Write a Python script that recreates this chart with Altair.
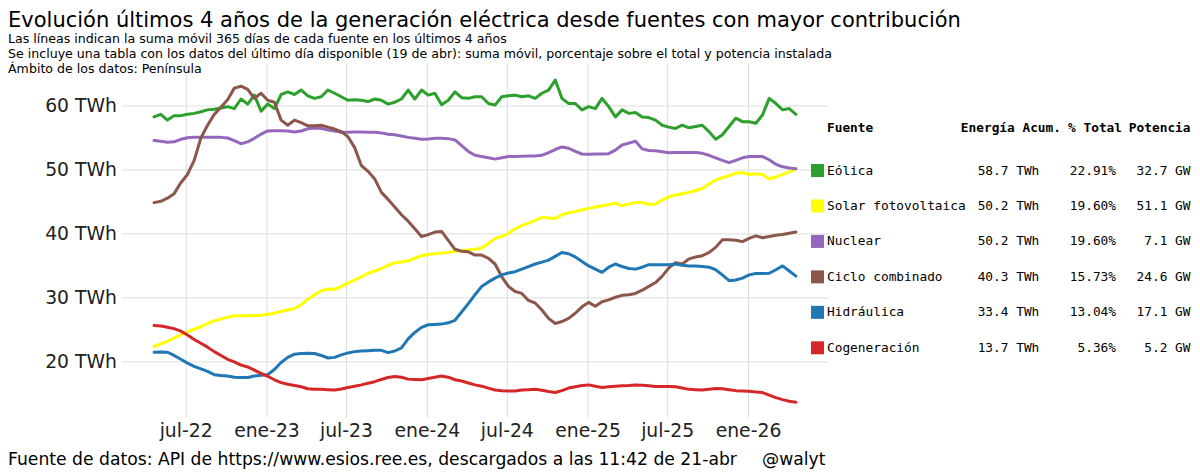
import altair as alt
import pandas as pd

# ---------------- data ----------------
fuentes = ["Eólica", "Solar fotovoltaica", "Nuclear", "Ciclo combinado", "Hidráulica", "Cogeneración"]
colores = ["#2ca02c", "#ffff00", "#9467bd", "#8c564b", "#1f77b4", "#d62728"]

fecha_inicio = "2022-04-19"
fecha_fin = "2026-04-19"
n_puntos = 97  # one reading every ~half month

eolica = [58.3, 58.7, 57.8, 58.5, 58.5, 58.7, 58.85, 59.1, 59.4, 59.5,
          59.7, 59.9, 59.6, 61.1, 60.3, 61.7, 59.2, 60.3, 59.6, 61.8,
          62.2, 61.8, 62.5, 61.6, 61.2, 61.45, 62.5, 62.0, 61.45, 60.9,
          61.0, 60.9, 60.7, 61.1, 60.9, 60.3, 60.6, 61.1, 62.5, 61.1,
          62.5, 61.7, 62.0, 60.2, 60.9, 62.2, 61.3, 61.2, 61.45,
          61.45, 60.4, 60.15, 61.45, 61.6, 61.7, 61.45, 61.6, 61.2, 62.0,
          62.5, 64.06, 61.2, 60.4, 60.4, 59.4, 59.9, 59.6, 61.2, 59.9,
          58.3, 59.4, 58.85, 59.0, 58.3, 58.2, 57.8, 57.0, 56.7, 56.5,
          57.0, 56.6, 56.8, 57.0, 56.0, 54.8, 55.5, 56.8, 58.1, 57.55,
          57.55, 57.3, 58.6, 61.2, 60.4, 59.4, 59.6, 58.7]

solar = [22.4, 22.8, 23.2, 23.7, 24.2, 24.7, 25.1, 25.5, 26.0, 26.4,
         26.7, 27.0, 27.2, 27.2, 27.2, 27.25, 27.3, 27.45, 27.6, 27.9,
         28.1, 28.35, 28.9, 29.8, 30.5, 31.1, 31.4, 31.35, 31.8, 32.3,
         32.8, 33.3, 33.85, 34.2, 34.6, 35.1, 35.5, 35.6, 35.8, 36.2,
         36.6, 36.8, 36.9, 37.0, 37.1, 37.3, 37.4, 37.5, 37.6,
         37.8, 38.5, 39.3, 39.6, 40.1, 40.8, 41.3, 41.7, 42.1, 42.6,
         42.5, 42.4, 43.0, 43.3, 43.5, 43.75, 44.0, 44.2, 44.4, 44.6,
         44.8, 44.4, 44.7, 44.9, 44.9, 44.6, 44.7, 45.3, 45.8, 46.1,
         46.3, 46.5, 46.8, 47.1, 47.8, 48.4, 48.8, 49.1, 49.5, 49.6,
         49.3, 49.4, 49.3, 48.6, 48.9, 49.3, 49.7, 50.2]

nuclear = [54.6, 54.5, 54.35, 54.4, 54.8, 55.05, 55.1, 55.1, 55.1, 55.1,
           55.1, 55.0, 54.6, 54.1, 54.4, 54.95, 55.6, 56.1, 56.15, 56.15,
           56.1, 55.95, 56.1, 56.45, 56.55, 56.5, 56.25, 56.1, 55.9, 55.9,
           55.95, 55.95, 55.9, 55.9, 55.8, 55.6, 55.5, 55.3, 55.1, 54.95,
           54.8, 54.85, 54.95, 54.95, 54.9, 54.7, 53.8, 52.9, 52.3,
           52.1, 51.9, 51.7, 51.9, 52.1, 52.1, 52.15, 52.2, 52.2, 52.3,
           52.7, 53.2, 53.6, 53.4, 52.9, 52.5, 52.45, 52.5, 52.5, 52.55,
           53.1, 53.9, 54.2, 54.5, 53.3, 53.05, 53.0, 52.85, 52.7, 52.75,
           52.75, 52.75, 52.75, 52.6, 52.3, 51.9, 51.5, 51.15, 51.5, 51.9,
           52.1, 52.1, 52.1, 51.6, 50.9, 50.5, 50.3, 50.2]

ciclo = [44.9, 45.1, 45.6, 46.3, 48.0, 49.3, 51.5, 55.0, 57.0, 58.7,
         59.8, 61.0, 62.8, 63.1, 62.6, 61.2, 62.0, 60.9, 60.6, 57.8,
         57.0, 57.8, 57.4, 56.9, 56.9, 57.0, 56.7, 56.4, 56.0, 55.2,
         53.5, 50.7, 49.8, 48.6, 46.5, 45.4, 44.2, 43.0, 42.0, 40.8,
         39.6, 39.9, 40.3, 40.4, 39.0, 37.6, 37.3, 37.2, 36.7,
         36.7, 36.2, 35.3, 33.3, 31.8, 31.0, 30.7, 29.6, 29.2, 28.1,
         26.8, 26.0, 26.3, 26.8, 27.6, 28.6, 29.3, 28.7, 29.4, 29.7,
         30.1, 30.4, 30.5, 30.7, 31.2, 31.8, 32.4, 33.4, 34.7, 35.5,
         35.3, 36.1, 36.4, 36.6, 37.1, 37.9, 39.1, 39.1, 39.0, 38.8,
         39.3, 39.7, 39.4, 39.6, 39.8, 39.9, 40.1, 40.3]

hidraulica = [21.5, 21.55, 21.5, 21.0, 20.4, 19.8, 19.3, 18.9, 18.5, 18.0,
              17.85, 17.8, 17.6, 17.55, 17.55, 17.8, 17.9, 18.0, 18.8, 19.9,
              20.7, 21.2, 21.3, 21.35, 21.3, 21.0, 20.6, 20.7, 21.1, 21.4,
              21.6, 21.7, 21.75, 21.8, 21.8, 21.45, 21.7, 22.2, 23.6, 24.6,
              25.4, 25.8, 25.85, 25.9, 26.1, 26.5, 27.8, 29.1, 30.5,
              31.8, 32.5, 33.1, 33.6, 33.9, 34.1, 34.5, 34.9, 35.3, 35.6,
              35.9, 36.5, 37.1, 36.9, 36.4, 35.7, 35.0, 34.5, 34.0, 34.8,
              35.3, 34.9, 34.6, 34.5, 34.8, 35.2, 35.2, 35.2, 35.2, 35.3,
              35.1, 35.0, 35.0, 34.9, 34.8, 34.4, 33.6, 32.7, 32.8, 33.1,
              33.6, 33.8, 33.8, 33.85, 34.4, 35.0, 34.2, 33.4]

cogeneracion = [25.7, 25.6, 25.4, 25.2, 24.8, 24.2, 23.5, 22.9, 22.3, 21.6,
                21.0, 20.4, 20.0, 19.5, 19.2, 18.7, 18.2, 17.75, 17.2, 16.75,
                16.5, 16.3, 16.1, 15.8, 15.7, 15.7, 15.65, 15.6, 15.75, 16.0,
                16.2, 16.4, 16.65, 16.9, 17.25, 17.55, 17.7, 17.6, 17.3, 17.25,
                17.2, 17.4, 17.6, 17.8, 17.6, 17.2, 17.0, 16.7, 16.4,
                16.2, 15.9, 15.6, 15.5, 15.45, 15.45, 15.6, 15.65, 15.7, 15.55,
                15.35, 15.2, 15.5, 15.9, 16.1, 16.3, 16.4, 16.2, 16.0, 16.1,
                16.2, 16.25, 16.3, 16.4, 16.35, 16.25, 16.15, 16.15, 16.15, 16.1,
                15.9, 15.7, 15.65, 15.6, 15.7, 15.85, 15.8, 15.65, 15.5, 15.45,
                15.4, 15.3, 15.2, 14.8, 14.4, 14.1, 13.85, 13.7]

# table with the last available day
energia = [58.7, 50.2, 50.2, 40.3, 33.4, 13.7]
porcentaje = [22.91, 19.60, 19.60, 15.73, 13.04, 5.36]
potencia = [32.7, 51.1, 7.1, 24.6, 17.1, 5.2]

y_ticks = [20, 30, 40, 50, 60]
x_ticks = ["2022-07-01", "2023-01-01", "2023-07-01", "2024-01-01",
           "2024-07-01", "2025-01-01", "2025-07-01", "2026-01-01"]

titulo = "Evolución últimos 4 años de la generación eléctrica desde fuentes con mayor contribución"
subtitulo = [
    "Las líneas indican la suma móvil 365 días de cada fuente en los últimos 4 años",
    "Se incluye una tabla con los datos del último día disponible (19 de abr): suma móvil, porcentaje sobre el total y potencia instalada",
    "Ámbito de los datos: Península",
]
pie = "Fuente de datos: API de https://www.esios.ree.es, descargados a las 11:42 de 21-abr"
firma = "@walyt"

# ---------------- frames ----------------
fechas = pd.date_range(fecha_inicio, fecha_fin, periods=n_puntos)
series = [eolica, solar, nuclear, ciclo, hidraulica, cogeneracion]
rows = []
for f, vals in zip(fuentes, series):
    for d, v in zip(fechas, vals):
        rows.append({"fecha": d, "fuente": f, "valor": v})
df = pd.DataFrame(rows)

df_tab = pd.DataFrame({"fuente": fuentes, "energia": energia,
                       "pct": porcentaje, "potencia": potencia})
df_xt = pd.DataFrame({"fecha": pd.to_datetime(x_ticks)})
df_yt = pd.DataFrame({"valor": y_ticks})

FONT = "DejaVu Sans"
MONO = "DejaVu Sans Mono"
TXT = "#222222"
GRID = "#dddddd"
color_scale = alt.Scale(domain=fuentes, range=colores)

x_scale = alt.Scale(domain=[alt.DateTime(year=2022, month=2, date=5),
                            alt.DateTime(year=2026, month=7, date=1)])
y_scale = alt.Scale(domain=[11.3, 66.65], nice=False, zero=False)
X = alt.X("fecha:T", scale=x_scale, axis=None)
Y = alt.Y("valor:Q", scale=y_scale, axis=None)

grid_x = alt.Chart(df_xt).mark_rule(color=GRID, strokeWidth=1).encode(x=X)
grid_y = alt.Chart(df_yt).mark_rule(color=GRID, strokeWidth=1).encode(y=Y)

lines = alt.Chart(df).mark_line(strokeWidth=3, strokeJoin="round", strokeCap="round").encode(
    x=X, y=Y,
    color=alt.Color("fuente:N", scale=color_scale, legend=None),
    detail="fuente:N",
)

x_labels = alt.Chart(df_xt).transform_calculate(
    lab="(month(datum.fecha) == 0 ? 'ene-' : 'jul-') + timeFormat(datum.fecha, '%y')"
).mark_text(font=FONT, fontSize=18.8, color=TXT, align="center", baseline="alphabetic").encode(
    x=X, y=alt.value(373), text="lab:N")
y_labels = alt.Chart(df_yt).transform_calculate(
    lab="datum.valor + ' TWh'"
).mark_text(font=FONT, fontSize=18.8, color=TXT, align="right", baseline="middle").encode(
    y=Y, x=alt.value(-5), text="lab:N")

main = alt.layer(grid_x, grid_y, lines, x_labels, y_labels)

ytab = alt.Y("fuente:N", sort=fuentes,
             scale=alt.Scale(type="point", range=[107, 284.3], padding=0), axis=None)
base_tab = alt.Chart(df_tab).encode(y=ytab)

squares = base_tab.mark_square(size=169, opacity=1).encode(
    x=alt.value(695.5),
    color=alt.Color("fuente:N", scale=color_scale, legend=None),
)
mono = dict(font=MONO, fontSize=12.8, color="black", baseline="middle")
names = base_tab.mark_text(align="left", **mono).encode(x=alt.value(705), text="fuente:N")
col_e = base_tab.transform_calculate(t="format(datum.energia, '.1f') + ' TWh'").mark_text(
    align="right", **mono).encode(x=alt.value(917.3), text="t:N")
col_p = base_tab.transform_calculate(t="format(datum.pct, '.2f') + '%'").mark_text(
    align="right", **mono).encode(x=alt.value(994), text="t:N")
col_w = base_tab.transform_calculate(t="format(datum.potencia, '.1f') + ' GW'").mark_text(
    align="right", **mono).encode(x=alt.value(1068.5), text="t:N")


def header(txt, xpos, align):
    return alt.Chart(pd.DataFrame({"h": [txt]})).mark_text(
        align=align, fontWeight="bold", **mono).encode(
        x=alt.value(xpos), y=alt.value(64), text="h:N")


headers = [header("Fuente", 705, "left"), header("Energía Acum.", 939, "right"),
           header("% Total", 1000, "right"), header("Potencia", 1068.5, "right")]


def texto(txt, xpos, ypos, size):
    return alt.Chart(pd.DataFrame({"t": [txt]})).mark_text(
        align="left", baseline="alphabetic", font=FONT, fontSize=size, color="black").encode(
        x=alt.value(xpos), y=alt.value(ypos), text="t:N")


textos = [texto(titulo, -114, -36.5, 21)]
for k, s in enumerate(subtitulo):
    textos.append(texto(s, -114, -20.5 + 14.75 * k, 12.6))
textos.append(texto(pie, -114, 401, 17.2))
textos.append(texto(firma, 640, 401, 17.2))

tabla = alt.layer(squares, names, col_e, col_p, col_w, *headers, *textos)

chart = alt.layer(main, tabla).resolve_scale(y="independent").properties(
    width=706, height=354, background="white",
    padding={"top": 1.5, "left": 0, "right": 0, "bottom": 0},
).configure_view(stroke="transparent", strokeWidth=0).configure_axis(
    domain=False, ticks=False, grid=False,
)

chart.save("out.html", embed_options={"renderer": "svg", "actions": False})
